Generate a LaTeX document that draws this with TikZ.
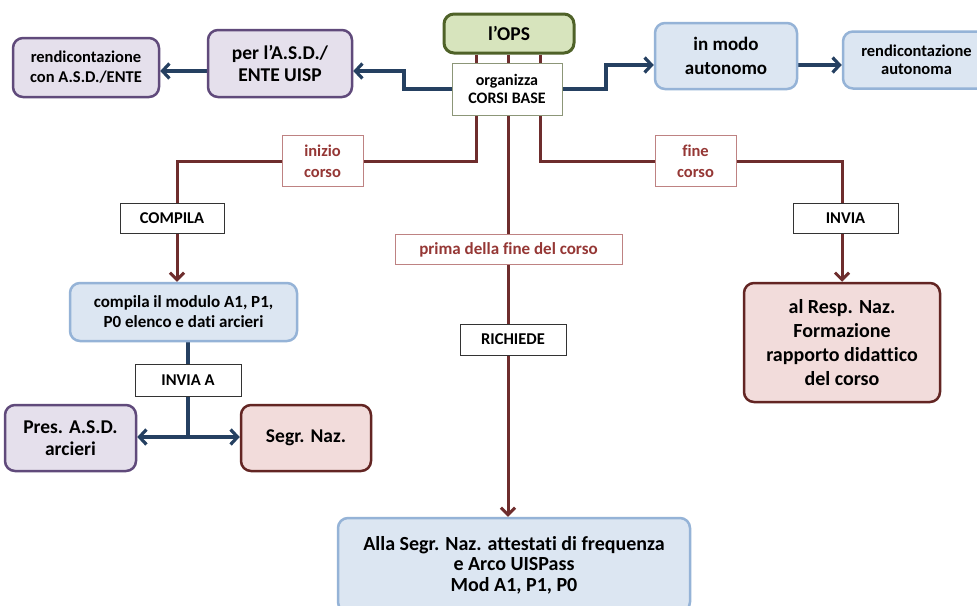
\documentclass[tikz,border=0pt]{standalone}
\usepackage{fontspec}
\setmainfont{Carlito}[Ligatures=NoCommon]
\usetikzlibrary{arrows.meta,backgrounds}
\definecolor{redline}{RGB}{110,45,45}
\definecolor{redtext}{RGB}{149,55,53}
\definecolor{redborder}{RGB}{190,130,130}
\definecolor{blueline}{RGB}{37,64,97}
\definecolor{bluefill}{RGB}{220,230,242}
\definecolor{blueborder}{RGB}{149,179,215}
\definecolor{purplefill}{RGB}{229,224,236}
\definecolor{purpleborder}{RGB}{96,74,123}
\definecolor{pinkfill}{RGB}{242,220,219}
\definecolor{pinkborder}{RGB}{99,37,35}
\definecolor{greenfill}{RGB}{215,228,189}
\definecolor{greenborder}{RGB}{79,98,40}
\definecolor{orgborder}{RGB}{140,150,120}
\tikzset{
  fs/.style 2 args={font=\fontsize{#1}{#2}\selectfont\bfseries},
  box/.style={rounded corners=10pt, line width=2.5pt, align=center, inner sep=0pt},
  bluebox/.style={box, fill=bluefill, draw=blueborder},
  purplebox/.style={box, fill=purplefill, draw=purpleborder},
  pinkbox/.style={box, fill=pinkfill, draw=pinkborder},
  greenbox/.style={box, fill=greenfill, draw=greenborder, line width=3pt},
  lab/.style={draw=black!80, line width=0.8pt, fill=white, align=center, inner sep=0pt, fs={16.5}{19}},
  redlab/.style={draw=redborder, line width=1pt, fill=white, align=center, inner sep=0pt, text=redtext, fs={16.5}{21}},
  redarr/.style={draw=redline, line width=3pt, -{Straight Barb[length=7pt,width=14pt]}},
  bluearr/.style={draw=blueline, line width=3.2pt, -{Straight Barb[length=7pt,width=15pt]}},
  blueln/.style={draw=blueline, line width=3.2pt},
}
\begin{document}
\begin{tikzpicture}[x=1pt,y=-1pt]
\useasboundingbox (0,0) rectangle (977,605);

\node[greenbox, fs={19.5}{24}, minimum width=130pt, minimum height=39pt] (ops) at (509,33.5) {l’OPS};
\node[draw=orgborder, line width=1pt, fill=white, align=center, inner sep=0pt, fs={16}{18.5}, minimum width=110pt, minimum height=52pt] (org) at (507,89) {organizza\\CORSI BASE};
\node[purplebox, fs={19.5}{22}, minimum width=144pt, minimum height=67pt] (perasd) at (280,63.5) {per l’A.S.D./\\ENTE UISP};
\node[purplebox, fs={16.5}{20}, minimum width=146pt, minimum height=59pt] (rendasd) at (86,67.5) {rendicontazione\\con A.S.D./ENTE};
\node[bluebox, fs={19}{24}, minimum width=142pt, minimum height=66pt] (modo) at (726,56) {in modo\\autonomo};
\node[bluebox, fs={16.5}{18.5}, minimum width=147pt, minimum height=57pt] (rendaut) at (916.5,60) {rendicontazione\\autonoma};

\node[redlab, minimum width=81pt, minimum height=51pt] (inizio) at (322.5,161) {inizio\\corso};
\node[redlab, minimum width=81pt, minimum height=51pt] (fine) at (695.5,161) {fine\\corso};
\node[lab, minimum width=104pt, minimum height=30pt] (compila) at (172,218) {COMPILA};
\node[lab, minimum width=105pt, minimum height=30pt] (invia) at (845.5,218) {INVIA};
\node[redlab, fs={17}{20}, minimum width=227pt, minimum height=30pt] (prima) at (508.5,249.5) {prima della fine del corso};
\node[lab, minimum width=106pt, minimum height=31pt] (richiede) at (513,339.5) {RICHIEDE};

\node[bluebox, fs={17}{20}, minimum width=227pt, minimum height=58pt] (comp) at (183.5,312) {compila il modulo A1, P1,\\P0 elenco e dati arcieri};
\node[lab, minimum width=106pt, minimum height=32pt] (inviaa) at (188,380) {INVIA A};
\node[purplebox, fs={19.5}{22}, minimum width=131pt, minimum height=66pt] (pres) at (70.5,438) {Pres. A.S.D.\\arcieri};
\node[pinkbox, fs={19.5}{22}, minimum width=130pt, minimum height=66pt] (segr) at (306,438) {Segr. Naz.};
\node[pinkbox, fs={20}{24}, minimum width=196pt, minimum height=119pt] (resp) at (842,342.5) {al Resp. Naz.\\Formazione\\rapporto didattico\\del corso};
\node[bluebox, fs={20}{20.5}, minimum width=352pt, minimum height=94pt] (final) at (514,565) {Alla Segr. Naz. attestati di frequenza\\e Arco UISPass\\Mod A1, P1, P0};

\coordinate (j) at (188,437);

\begin{pgfonlayer}{background}
\fill[white] (0,0) rectangle (977,605);
\draw[redarr] ([xshift=-33pt]ops.south) |- ([xshift=-6.5pt]comp.north |- inizio.center) -- ([xshift=-6.5pt]comp.north);
\draw[redarr] ([xshift=31pt]ops.south) |- (resp.north |- fine.center) -- (resp.north);
\draw[redarr] ([xshift=-1pt]ops.south) -- ([xshift=-1pt]ops.south |- final.north);
\draw[bluearr] (org.west) -- (404,89) -- (404,71) -- (perasd.east |- 0,71);
\draw[bluearr] (perasd.west |- 0,71) -- (rendasd.east |- 0,71);
\draw[bluearr] (org.east) -- (606,89) -- (606,65) -- (modo.west |- 0,65);
\draw[bluearr] (modo.east |- 0,65) -- (rendaut.west |- 0,65);
\draw[blueln] (comp.south -| j) -- (j);
\draw[bluearr] (j) -- (pres.east |- j);
\draw[bluearr] (j) -- (segr.west |- j);
\end{pgfonlayer}
\end{tikzpicture}
\end{document}
